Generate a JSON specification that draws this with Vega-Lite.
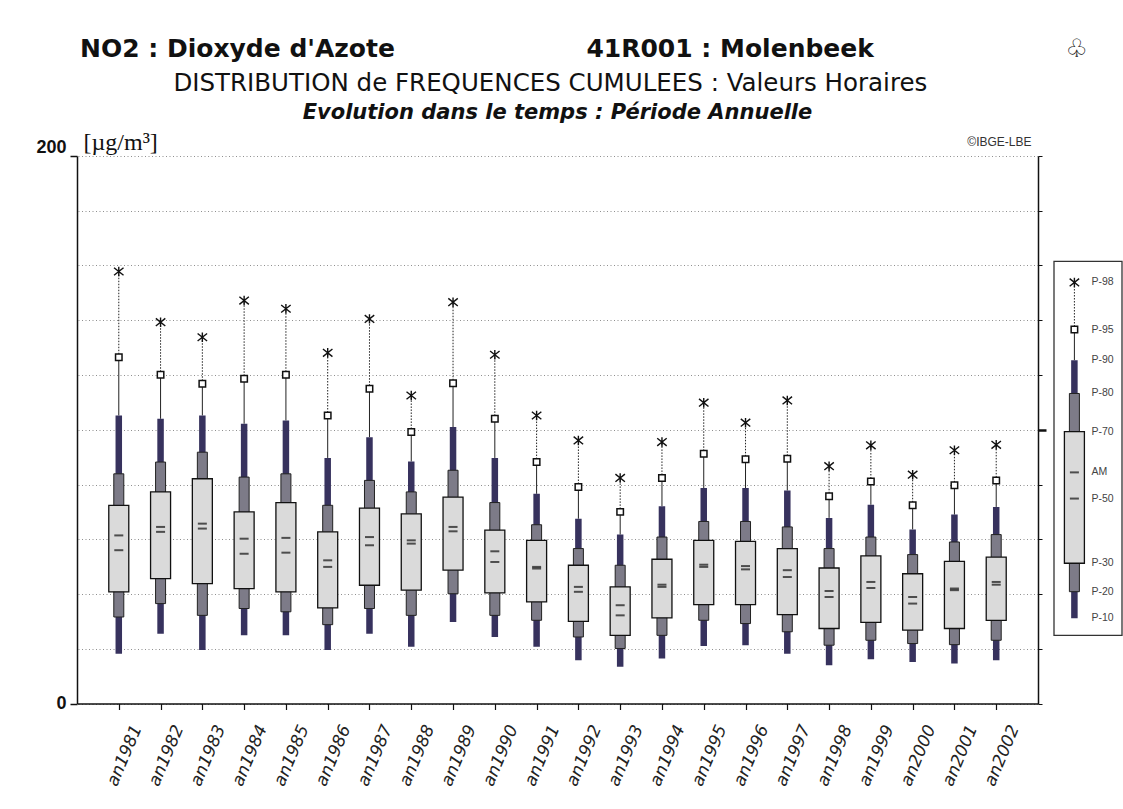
{
  "$schema": "https://vega.github.io/schema/vega-lite/v6.json",
  "background": "white",
  "padding": {"left": 35, "top": 37, "right": 2, "bottom": 2},
  "title": {
    "text": "NO2 : Dioxyde d'Azote\u00a0\u00a0\u00a0\u00a0\u00a0\u00a0\u00a0\u00a0\u00a0\u00a0\u00a0\u00a0\u00a0\u00a0\u00a0\u00a0\u00a0\u00a0\u00a0\u00a0\u00a0\u00a041R001 : Molenbeek\u00a0\u00a0\u00a0\u00a0\u00a0\u00a0\u00a0\u00a0\u00a0\u00a0\u00a0\u00a0\u00a0\u00a0\u00a0\u00a0\u00a0\u00a0\u00a0\u00a0\u00a0\u00a0♧",
    "subtitle": "\u200b\u00a0\u00a0\u00a0\u00a0\u00a0\u00a0\u00a0\u00a0\u00a0\u00a0\u00a0\u00a0DISTRIBUTION de FREQUENCES CUMULEES : Valeurs Horaires",
    "font": "DejaVu Sans",
    "fontSize": 25,
    "fontWeight": "bold",
    "color": "#111",
    "subtitleFont": "DejaVu Sans",
    "subtitleFontSize": 24.5,
    "subtitleFontWeight": "normal",
    "subtitleColor": "#111",
    "subtitlePadding": 10,
    "anchor": "start",
    "dx": 44,
    "offset": 6
  },
  "datasets": {
    "annuel": [
      {"annee": "an1981", "P-10": 18.2, "P-20": 31.6, "P-30": 40.8, "P-50": 56.0, "AM": 61.4, "P-70": 72.4, "P-80": 83.9, "P-90": 105.2, "P-95": 126.5, "P-98": 157.8},
      {"annee": "an1982", "P-10": 25.5, "P-20": 36.5, "P-30": 45.6, "P-50": 62.7, "AM": 64.5, "P-70": 77.3, "P-80": 88.2, "P-90": 104.0, "P-95": 120.1, "P-98": 139.3},
      {"annee": "an1983", "P-10": 19.5, "P-20": 32.2, "P-30": 43.8, "P-50": 63.9, "AM": 65.7, "P-70": 82.1, "P-80": 91.8, "P-90": 105.2, "P-95": 116.8, "P-98": 133.8},
      {"annee": "an1984", "P-10": 24.9, "P-20": 34.7, "P-30": 42.0, "P-50": 54.7, "AM": 60.2, "P-70": 70.0, "P-80": 82.7, "P-90": 102.2, "P-95": 118.6, "P-98": 147.2},
      {"annee": "an1985", "P-10": 24.9, "P-20": 33.5, "P-30": 40.8, "P-50": 55.1, "AM": 60.5, "P-70": 73.4, "P-80": 83.9, "P-90": 103.4, "P-95": 120.1, "P-98": 144.2},
      {"annee": "an1986", "P-10": 19.5, "P-20": 28.8, "P-30": 34.9, "P-50": 49.9, "AM": 52.3, "P-70": 62.7, "P-80": 72.4, "P-90": 89.7, "P-95": 105.2, "P-98": 128.1},
      {"annee": "an1987", "P-10": 25.5, "P-20": 34.7, "P-30": 43.2, "P-50": 57.8, "AM": 60.8, "P-70": 71.4, "P-80": 81.5, "P-90": 97.3, "P-95": 115.0, "P-98": 140.5},
      {"annee": "an1988", "P-10": 20.7, "P-20": 32.2, "P-30": 41.4, "P-50": 58.4, "AM": 59.6, "P-70": 69.3, "P-80": 77.3, "P-90": 88.4, "P-95": 99.2, "P-98": 112.5},
      {"annee": "an1989", "P-10": 29.8, "P-20": 40.1, "P-30": 48.7, "P-50": 62.9, "AM": 64.5, "P-70": 75.4, "P-80": 85.2, "P-90": 101.0, "P-95": 117.0, "P-98": 146.6},
      {"annee": "an1990", "P-10": 24.3, "P-20": 32.2, "P-30": 40.4, "P-50": 51.7, "AM": 55.6, "P-70": 63.3, "P-80": 73.4, "P-90": 89.7, "P-95": 104.0, "P-98": 127.4},
      {"annee": "an1991", "P-10": 20.7, "P-20": 30.4, "P-30": 37.1, "P-50": 49.3, "AM": 49.9, "P-70": 59.6, "P-80": 65.3, "P-90": 76.6, "P-95": 88.2, "P-98": 105.2},
      {"annee": "an1992", "P-10": 15.8, "P-20": 24.3, "P-30": 30.0, "P-50": 40.8, "AM": 42.6, "P-70": 50.5, "P-80": 56.6, "P-90": 67.5, "P-95": 79.1, "P-98": 96.1},
      {"annee": "an1993", "P-10": 13.4, "P-20": 20.1, "P-30": 24.9, "P-50": 32.2, "AM": 35.9, "P-70": 42.6, "P-80": 50.5, "P-90": 61.7, "P-95": 70.0, "P-98": 82.4},
      {"annee": "an1994", "P-10": 16.4, "P-20": 24.9, "P-30": 31.3, "P-50": 42.6, "AM": 43.4, "P-70": 52.7, "P-80": 60.8, "P-90": 72.1, "P-95": 82.4, "P-98": 95.5},
      {"annee": "an1995", "P-10": 21.0, "P-20": 30.4, "P-30": 36.1, "P-50": 49.9, "AM": 50.7, "P-70": 59.6, "P-80": 66.5, "P-90": 78.7, "P-95": 91.2, "P-98": 109.9},
      {"annee": "an1996", "P-10": 21.3, "P-20": 29.2, "P-30": 36.1, "P-50": 49.0, "AM": 50.2, "P-70": 59.2, "P-80": 66.5, "P-90": 78.7, "P-95": 89.2, "P-98": 102.6},
      {"annee": "an1997", "P-10": 18.2, "P-20": 26.2, "P-30": 32.5, "P-50": 46.2, "AM": 48.7, "P-70": 56.6, "P-80": 64.5, "P-90": 77.8, "P-95": 89.4, "P-98": 110.7},
      {"annee": "an1998", "P-10": 14.0, "P-20": 21.3, "P-30": 27.4, "P-50": 38.9, "AM": 41.1, "P-70": 49.5, "P-80": 56.6, "P-90": 67.8, "P-95": 75.7, "P-98": 86.7},
      {"annee": "an1999", "P-10": 16.2, "P-20": 23.1, "P-30": 29.6, "P-50": 42.2, "AM": 44.4, "P-70": 53.9, "P-80": 60.8, "P-90": 72.6, "P-95": 81.1, "P-98": 94.3},
      {"annee": "an2000", "P-10": 15.2, "P-20": 21.9, "P-30": 26.8, "P-50": 36.5, "AM": 38.9, "P-70": 47.4, "P-80": 54.4, "P-90": 63.6, "P-95": 72.4, "P-98": 83.6},
      {"annee": "an2001", "P-10": 14.6, "P-20": 21.5, "P-30": 27.4, "P-50": 41.4, "AM": 42.0, "P-70": 51.9, "P-80": 59.0, "P-90": 69.0, "P-95": 79.7, "P-98": 92.5},
      {"annee": "an2002", "P-10": 15.8, "P-20": 23.1, "P-30": 30.4, "P-50": 43.4, "AM": 44.4, "P-70": 53.5, "P-80": 61.7, "P-90": 71.8, "P-95": 81.5, "P-98": 94.5}
    ],
    "legende": [
      {"exemple": "légende", "P-10": 4.6, "P-20": 11.7, "P-30": 19.3, "P-50": 36.6, "AM": 43.6, "P-70": 54.5, "P-80": 64.7, "P-90": 73.6, "P-95": 81.8, "P-98": 94.4}
    ]
  },
  "bounds": "flush",
  "spacing": 16,
  "hconcat": [
    {
      "width": 961,
      "height": 547.5,
      "title": {
        "text": "Evolution dans le temps : Période Annuelle",
        "font": "DejaVu Sans",
        "fontSize": 21,
        "fontStyle": "italic",
        "fontWeight": "bold",
        "color": "#111",
        "anchor": "middle",
        "frame": "group",
        "offset": 7.5
      },
      "data": {"name": "annuel"},
      "encoding": {
        "x": {
          "field": "annee",
          "type": "ordinal",
          "scale": {"type": "point", "padding": 1.07},
          "axis": {
            "title": null,
            "domainColor": "#111",
            "domainWidth": 1.5,
            "tickColor": "#111",
            "tickSize": 6,
            "tickWidth": 1.2,
            "labelAngle": -67,
            "labelAlign": "right",
            "labelBaseline": "middle",
            "labelOffset": 18,
            "labelPadding": 16,
            "labelOverlap": false,
            "labelFont": "DejaVu Sans",
            "labelFontStyle": "italic",
            "labelFontSize": 17,
            "labelColor": "#222"
          }
        }
      },
      "layer": [
        {
          "mark": {"type": "rule", "strokeDash": [1.5, 1.5], "color": "#222", "strokeWidth": 1},
          "encoding": {
            "y": {
              "field": "P-95",
              "type": "quantitative",
              "scale": {"domain": [0, 200], "nice": false},
              "axis": {
                "orient": "right",
                "values": [0, 20, 40, 60, 80, 100, 120, 140, 160, 180, 200],
                "labels": false,
                "grid": true,
                "gridDash": [1, 2.5],
                "gridColor": "#8f8f8f",
                "gridWidth": 1,
                "domainColor": "#111",
                "domainWidth": 1.5,
                "tickColor": "#111",
                "tickSize": {"condition": {"test": "datum.value === 100", "value": 8}, "value": 4},
                "tickWidth": {"condition": {"test": "datum.value === 100", "value": 2.5}, "value": 1},
                "title": "©IBGE-LBE",
                "titleAngle": 0,
                "titleX": -7,
                "titleY": -10.5,
                "titleAlign": "right",
                "titleBaseline": "alphabetic",
                "titleFont": "Liberation Sans",
                "titleFontSize": 12,
                "titleFontWeight": "normal",
                "titleColor": "#333"
              }
            },
            "y2": {"field": "P-98"}
          }
        },
        {
          "layer": [
            {
              "mark": {"type": "rule", "color": "#222", "strokeWidth": 1},
              "encoding": {
                "y": {
                  "field": "P-90",
                  "type": "quantitative",
                  "scale": {"domain": [0, 200], "nice": false},
                  "axis": {
                    "orient": "left",
                    "values": [0, 200],
                    "grid": false,
                    "domainColor": "#111",
                    "domainWidth": 1.5,
                    "tickColor": "#111",
                    "tickSize": 7,
                    "tickWidth": 1.5,
                    "labelFont": "Liberation Sans",
                    "labelFontWeight": "bold",
                    "labelFontSize": 18,
                    "labelColor": "#111",
                    "labelPadding": 4,
                    "labelBaseline": {"condition": {"test": "datum.value === 200", "value": "alphabetic"}, "value": "middle"},
                    "labelOffset": {"condition": {"test": "datum.value === 200", "value": -4}, "value": 0},
                    "title": "[µg/m³]",
                    "titleAngle": 0,
                    "titleX": 6,
                    "titleY": -7,
                    "titleAlign": "left",
                    "titleBaseline": "alphabetic",
                    "titleFont": "Liberation Serif",
                    "titleFontSize": 24,
                    "titleFontWeight": "normal",
                    "titleColor": "#111"
                  }
                },
                "y2": {"field": "P-95"}
              }
            },
            {
              "mark": {"type": "bar", "size": 6.5, "color": "#37325e"},
              "encoding": {
                "y": {"field": "P-10", "type": "quantitative", "scale": {"domain": [0, 200], "nice": false}},
                "y2": {"field": "P-90"}
              }
            },
            {
              "mark": {"type": "bar", "size": 10, "fill": "#7d7b88", "stroke": "#222", "strokeWidth": 1},
              "encoding": {
                "y": {"field": "P-20", "type": "quantitative", "scale": {"domain": [0, 200], "nice": false}},
                "y2": {"field": "P-80"}
              }
            },
            {
              "mark": {"type": "bar", "size": 20, "fill": "#dadada", "stroke": "#111", "strokeWidth": 1.3},
              "encoding": {
                "y": {"field": "P-30", "type": "quantitative", "scale": {"domain": [0, 200], "nice": false}},
                "y2": {"field": "P-70"}
              }
            },
            {
              "mark": {"type": "tick", "size": 9, "thickness": 2, "color": "#111"},
              "encoding": {"y": {"field": "AM", "type": "quantitative", "scale": {"domain": [0, 200], "nice": false}}}
            },
            {
              "mark": {"type": "tick", "size": 9, "thickness": 2, "color": "#111"},
              "encoding": {"y": {"field": "P-50", "type": "quantitative", "scale": {"domain": [0, 200], "nice": false}}}
            },
            {
              "mark": {"type": "point", "shape": "square", "size": 42, "filled": true, "fill": "white", "stroke": "#111", "strokeWidth": 1.5, "opacity": 1},
              "encoding": {"y": {"field": "P-95", "type": "quantitative", "scale": {"domain": [0, 200], "nice": false}}}
            },
            {
              "mark": {"type": "point", "shape": "M-1,-0.8L1,0.8M-1,0.8L1,-0.8M0,-1L0,1", "size": 90, "filled": false, "stroke": "#111", "strokeWidth": 1.4, "opacity": 1},
              "encoding": {"y": {"field": "P-98", "type": "quantitative", "scale": {"domain": [0, 200], "nice": false}}}
            }
          ]
        }
      ],
      "resolve": {"scale": {"y": "independent"}}
    },
    {
      "width": 68,
      "height": 547.5,
      "data": {"name": "legende"},
      "layer": [
        {
          "mark": {"type": "rect", "fill": "white", "fillOpacity": 0, "stroke": "#333", "strokeWidth": 1.3},
          "encoding": {
            "y": {"datum": 0, "type": "quantitative", "scale": {"domain": [-18.2, 128.2], "nice": false, "zero": false}, "axis": null},
            "y2": {"datum": 100}
          }
        },
        {
          "encoding": {
            "x": {"field": "exemple", "type": "nominal", "scale": {"type": "point", "align": 0.3}, "axis": null}
          },
          "layer": [
            {
              "mark": {"type": "rule", "strokeDash": [1.5, 1.5], "color": "#222", "strokeWidth": 1},
              "encoding": {
                "y": {"field": "P-95", "type": "quantitative", "axis": null},
                "y2": {"field": "P-98"}
              }
            },
            {
              "mark": {"type": "rule", "color": "#222", "strokeWidth": 1},
              "encoding": {
                "y": {"field": "P-90", "type": "quantitative", "axis": null},
                "y2": {"field": "P-95"}
              }
            },
            {
              "mark": {"type": "bar", "size": 6.5, "color": "#37325e"},
              "encoding": {
                "y": {"field": "P-10", "type": "quantitative", "axis": null},
                "y2": {"field": "P-90"}
              }
            },
            {
              "mark": {"type": "bar", "size": 10, "fill": "#7d7b88", "stroke": "#222", "strokeWidth": 1},
              "encoding": {
                "y": {"field": "P-20", "type": "quantitative", "axis": null},
                "y2": {"field": "P-80"}
              }
            },
            {
              "mark": {"type": "bar", "size": 20, "fill": "#dadada", "stroke": "#111", "strokeWidth": 1.3},
              "encoding": {
                "y": {"field": "P-30", "type": "quantitative", "axis": null},
                "y2": {"field": "P-70"}
              }
            },
            {
              "mark": {"type": "tick", "size": 9, "thickness": 2, "color": "#111"},
              "encoding": {"y": {"field": "AM", "type": "quantitative", "axis": null}}
            },
            {
              "mark": {"type": "tick", "size": 9, "thickness": 2, "color": "#111"},
              "encoding": {"y": {"field": "P-50", "type": "quantitative", "axis": null}}
            },
            {
              "mark": {"type": "point", "shape": "square", "size": 42, "filled": true, "fill": "white", "stroke": "#111", "strokeWidth": 1.5, "opacity": 1},
              "encoding": {"y": {"field": "P-95", "type": "quantitative", "axis": null}}
            },
            {
              "mark": {"type": "point", "shape": "M-1,-0.8L1,0.8M-1,0.8L1,-0.8M0,-1L0,1", "size": 90, "filled": false, "stroke": "#111", "strokeWidth": 1.4, "opacity": 1},
              "encoding": {"y": {"field": "P-98", "type": "quantitative", "axis": null}}
            },
            {
              "transform": [
                {"fold": ["P-98", "P-95", "P-90", "P-80", "P-70", "AM", "P-50", "P-30", "P-20", "P-10"], "as": ["libelle", "niveau"]}
              ],
              "mark": {"type": "text", "align": "left", "baseline": "middle", "dx": 17, "font": "Liberation Sans", "fontSize": 10.5, "fill": "#444"},
              "encoding": {
                "y": {"field": "niveau", "type": "quantitative", "axis": null},
                "text": {"field": "libelle", "type": "nominal"}
              }
            }
          ]
        }
      ]
    }
  ],
  "config": {
    "view": {"stroke": null},
    "font": "Liberation Sans"
  }
}
